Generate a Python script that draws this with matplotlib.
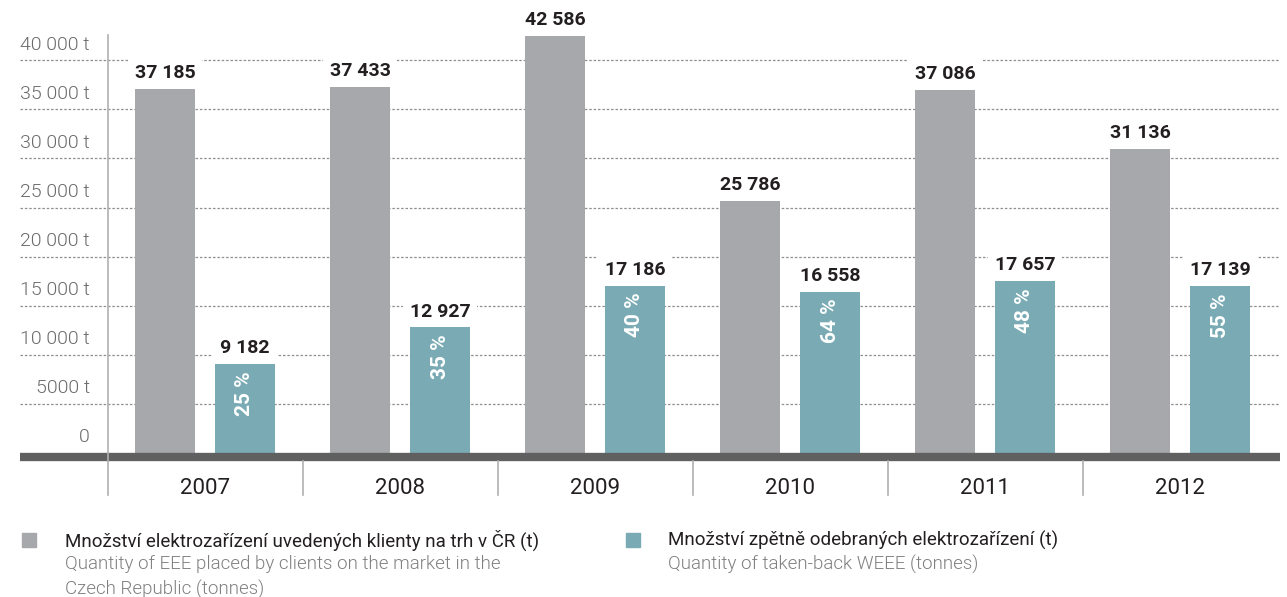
import matplotlib
matplotlib.use("Agg")
import matplotlib.pyplot as plt
from matplotlib.patches import Rectangle
from matplotlib.lines import Line2D
import matplotlib.transforms as mtransforms

years = ["2007", "2008", "2009", "2010", "2011", "2012"]
placed = [37185, 37433, 42586, 25786, 37086, 31136]
taken_back = [9182, 12927, 17186, 16558, 17657, 17139]
percent = [25, 35, 40, 64, 48, 55]
y_ticks = [0, 5000, 10000, 15000, 20000, 25000, 30000, 35000, 40000]
y_tick_labels = ["0", "5000 t", "10 000 t", "15 000 t", "20 000 t", "25 000 t",
                 "30 000 t", "35 000 t", "40 000 t"]
legend_cz = ["Množství elektrozařízení uvedených klienty na trh v ČR (t)",
             "Množství zpětně odebraných elektrozařízení (t)"]
legend_en = ["Quantity of EEE placed by clients on the market in the\nCzech Republic (tonnes)",
             "Quantity of taken-back WEEE (tonnes)"]

GRAY = "#a7a8ab"
TEAL = "#7aabb5"
DARK = "#231f20"
LGRAY = "#808082"
FONT = ["Roboto", "DejaVu Sans"]
plt.rcParams["font.family"] = FONT

W, H = 1287, 597
fig = plt.figure(figsize=(W / 100, H / 100), dpi=100)

# pixel geometry
x_left_px, x_right_px = 20, 1280
y0_px = 453
px_per_unit = 9.817 / 1000
ymax = 45000
y_top_px = y0_px - ymax * px_per_unit
group_w = 195
c0 = 205
ax = fig.add_axes([x_left_px / W, (H - y0_px) / H,
                   (x_right_px - x_left_px) / W, (y0_px - y_top_px) / H])
ax.set_xlim((x_left_px - c0) / group_w, (x_right_px - c0) / group_w)
ax.set_ylim(0, ymax)
ax.axis("off")

off = 40 / group_w
bw = 60 / group_w
xs = list(range(len(years)))

# gridlines
for v in y_ticks[1:]:
    ax.axhline(v, color="#8f8f8f", lw=0.9, ls=(0, (2, 1.5)), zorder=0)

ax.bar([x - off for x in xs], placed, width=bw, color=GRAY, zorder=2)
ax.bar([x + off for x in xs], taken_back, width=bw, color=TEAL, zorder=2)

for x, v in zip(xs, placed):
    s = f"{v:,}".replace(",", " ")
    ax.annotate(s, (x - off, v), xytext=(0, 4), textcoords="offset points",
                ha="center", va="bottom", fontsize=14, fontweight="bold", color=DARK,
                zorder=3, bbox=dict(boxstyle="square,pad=0.35", fc="white", ec="none"))
for x, v, p in zip(xs, taken_back, percent):
    s = f"{v:,}".replace(",", " ")
    ax.annotate(s, (x + off, v), xytext=(0, 4), textcoords="offset points",
                ha="center", va="bottom", fontsize=14, fontweight="bold", color=DARK,
                zorder=3, bbox=dict(boxstyle="square,pad=0.35", fc="white", ec="none"))
    ax.annotate(f"{p} %", (x + off, v), xytext=(0, -6), textcoords="offset points",
                ha="center", va="top", rotation=90, fontsize=15, fontweight="bold",
                color="white", zorder=4)

# y tick labels (placed above gridlines)
ytrans = mtransforms.blended_transform_factory(fig.transFigure, ax.transData)
for v, lab in zip(y_ticks, y_tick_labels):
    ax.text(90 / W, v + 1600, lab, transform=ytrans, ha="right", va="center",
            fontsize=14, fontweight=300, color="#6a6a6c", clip_on=False)

# baseline
fig.add_artist(Line2D([20 / W, 1280 / W], [(H - 457) / H] * 2, color="#606060",
                      lw=6, solid_capstyle="butt"))
# y axis line and group separators
fig.add_artist(Line2D([108 / W] * 2, [(H - 35) / H, (H - 495) / H], color="#b0b0b0", lw=1.2))
for i in range(1, len(years)):
    xp = 108 + group_w * i
    fig.add_artist(Line2D([xp / W] * 2, [(H - 461) / H, (H - 495) / H], color="#b0b0b0", lw=1.2))

# year labels
for i, yr in enumerate(years):
    fig.text((c0 + group_w * i) / W, (H - 488) / H, yr, ha="center", va="center",
             fontsize=16, color=DARK)

# legend
for (sx, tx), col, cz, en in zip([(22, 65), (626, 668)], [GRAY, TEAL], legend_cz, legend_en):
    fig.add_artist(Rectangle((sx / W, (H - 547) / H), 14 / W, 14 / H, color=col,
                             transform=fig.transFigure))
    fig.text(tx / W, (H - 540) / H, cz, ha="left", va="center", fontsize=13.5, color=DARK)
    fig.text(tx / W, (H - 555) / H, en, ha="left", va="top", fontsize=13.5,
             fontweight=300, color=LGRAY, linespacing=1.45)

fig.savefig("out.png", dpi=100)
